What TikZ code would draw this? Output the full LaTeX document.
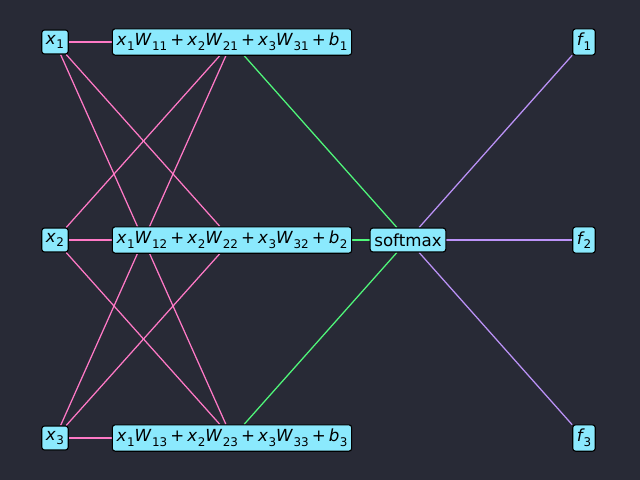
\documentclass[tikz,border=0pt]{standalone}
\usepackage{fontspec}
\setmainfont{DejaVu Sans}
\usetikzlibrary{backgrounds}
\newcommand{\vr}[3][0.03em]{\textit{#2}\kern#1\raisebox{-0.28em}{\fontsize{8.6}{9}\selectfont #3}}
\newcommand{\pl}{\kern0.18em+\kern0.18em}
\begin{document}
\begin{tikzpicture}[x=0.72pt,y=-0.72pt,
  nd/.style={draw=black,fill=cyanbox,rounded corners=2pt,inner xsep=3pt,inner ysep=3.2pt,minimum height=17.3pt,font=\fontsize{12}{14}\selectfont,line width=0.8pt},
  pk/.style={draw=pinkline,line width=0.9pt},
  gr/.style={draw=greenline,line width=0.9pt},
  pu/.style={draw=purpleline,line width=0.9pt}]
\definecolor{bg}{HTML}{282A36}
\definecolor{cyanbox}{HTML}{8BE9FD}
\definecolor{pinkline}{HTML}{FF79C6}
\definecolor{greenline}{HTML}{50FA7B}
\definecolor{purpleline}{HTML}{BD93F9}
\useasboundingbox (0,0) rectangle (640,480);
\node[nd] (x1) at (55,42) {\vr{x}{1}};
\node[nd] (x2) at (55,240) {\vr{x}{2}};
\node[nd] (x3) at (55,438) {\vr{x}{3}};
\node[nd] (h1) at (232,42) {\vr{x}{1}\vr{W}{11}\pl\vr{x}{2}\vr{W}{21}\pl\vr{x}{3}\vr{W}{31}\pl\vr{b}{1}};
\node[nd] (h2) at (232,240) {\vr{x}{1}\vr{W}{12}\pl\vr{x}{2}\vr{W}{22}\pl\vr{x}{3}\vr{W}{32}\pl\vr{b}{2}};
\node[nd] (h3) at (232,438) {\vr{x}{1}\vr{W}{13}\pl\vr{x}{2}\vr{W}{23}\pl\vr{x}{3}\vr{W}{33}\pl\vr{b}{3}};
\node[nd] (s) at (408,240) {softmax};
\node[nd] (f1) at (584,42) {\vr[-0.08em]{f}{1}};
\node[nd] (f2) at (584,240) {\vr[-0.08em]{f}{2}};
\node[nd] (f3) at (584,438) {\vr[-0.08em]{f}{3}};
\begin{scope}[on background layer]
\fill[bg] (0,0) rectangle (640,480);
\foreach \a in {x1,x2,x3}{\foreach \b in {h1,h2,h3}{\draw[pk] (\a) -- (\b);}}
\foreach \b in {h1,h2,h3}{\draw[gr] (\b) -- (s);}
\foreach \b in {f1,f2,f3}{\draw[pu] (s) -- (\b);}
\end{scope}
\end{tikzpicture}
\end{document}
